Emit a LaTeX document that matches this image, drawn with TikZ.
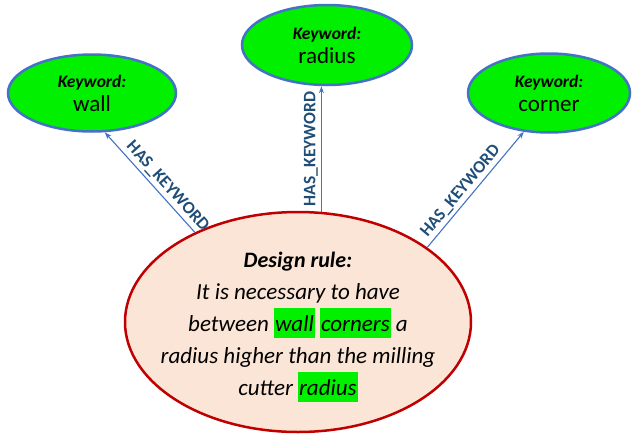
\documentclass[tikz,border=0pt]{standalone}
\usepackage{fontspec}
\setmainfont{Carlito}
\usetikzlibrary{arrows.meta,shapes.geometric}
\definecolor{kwgreen}{HTML}{00F000}
\definecolor{kwblue}{HTML}{4472C4}
\definecolor{rulefill}{HTML}{FBE5D6}
\definecolor{rulered}{HTML}{C00000}
\definecolor{relblue}{HTML}{1F4E79}
\newcommand{\hlkw}[1]{{\setlength{\fboxsep}{1pt}\colorbox{kwgreen}{\rule[-5pt]{0pt}{28pt}#1}}}
\newcommand{\kwtext}[1]{{\fontsize{17.5}{24}\selectfont\bfseries\itshape Keyword:}\\#1}

\begin{document}
\begin{tikzpicture}[x=1pt,y=-1pt,
    keyword/.style={ellipse, draw=kwblue, line width=2.5pt, fill=kwgreen, inner sep=0pt,
        align=center, font=\fontsize{23}{24}\selectfont},
    designrule/.style={ellipse, draw=rulered, line width=2.5pt, fill=rulefill, inner sep=0pt},
    ruletext/.style={align=center, font=\fontsize{23}{32}\selectfont\itshape},
    haskw/.style={draw=kwblue, line width=1.1pt, -{Stealth[length=7pt,width=5pt]}},
    rellabel/.style={inner sep=3pt, font=\fontsize{17.5}{17.5}\selectfont\bfseries, text=relblue}]
    \useasboundingbox (0,0) rectangle (632,434);

    % keywords
    \node[keyword, minimum width=168pt, minimum height=77pt] (wall) at (92,93) {\kwtext{wall}};
    \node[keyword, minimum width=170pt, minimum height=80pt] (radius) at (327,45) {\kwtext{radius}};
    \node[keyword, minimum width=162pt, minimum height=79pt] (corner) at (549,93) {\kwtext{corner}};

    % design rule
    \node[designrule, minimum width=346pt, minimum height=220pt] (rule) at (298,322) {};
    \node[ruletext] (ruletext) at (298,327)
        {{\fontsize{22}{32}\selectfont\bfseries Design rule:}\\
         It is necessary to have\\
         between \hlkw{wall} \hlkw{corners} a\\
         radius higher than the milling\\
         cutter \hlkw{radius}};

    % relations
    \draw[haskw] (rule.139) -- node[rellabel, sloped, above, pos=0.39] {HAS\_KEYWORD} (wall.-72);
    \draw[haskw] (rule.78) -- node[rellabel, rotate=90, anchor=south] {HAS\_KEYWORD} (rule.78 |- radius.south);
    \draw[haskw] (rule.30) -- node[rellabel, sloped, above, pos=0.43] {HAS\_KEYWORD} (corner.-123);
\end{tikzpicture}
\end{document}
